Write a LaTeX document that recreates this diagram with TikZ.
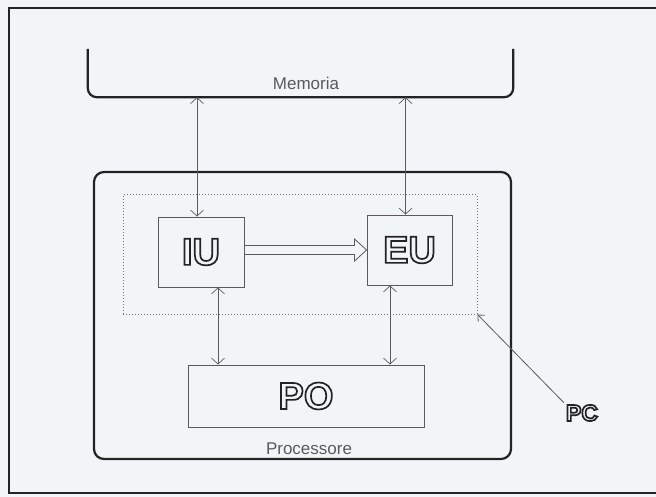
\documentclass[tikz,border=0pt]{standalone}
\usepackage{fontspec}
\setmainfont{Liberation Sans}
\usetikzlibrary{arrows.meta,calc}

\definecolor{paper}{RGB}{242,245,247}
\definecolor{ink}{RGB}{35,35,35}
\definecolor{pencil}{RGB}{90,90,90}

% outlined letters (stroke only)
\newcommand{\hollow}[1]{\special{pdf:literal direct 1 Tr 1.7 w}#1\special{pdf:literal direct 0 Tr}}

\tikzset{
  unitbox/.style={draw=pencil,line width=0.9pt,inner sep=0pt},
  bigbox/.style={draw=ink,line width=2.2pt,rounded corners=10pt,inner sep=0pt},
  link/.style={draw=pencil,line width=0.7pt,{Straight Barb[length=6pt,width=13pt]}-{Straight Barb[length=6pt,width=13pt]}},
  lbl/.style={text=pencil,font=\fontsize{17}{20}\selectfont},
  big/.style={text=ink,font=\fontsize{38}{40}\selectfont\bfseries}
}

\begin{document}
\begin{tikzpicture}[x=1pt,y=-1pt]
\useasboundingbox[fill=paper] (0,0) rectangle (656,497);

% page frame
\draw[ink,line width=1.3pt] (658,8) -- (9,8) -- (9,493) -- (658,493);

% memory
\node[minimum width=425pt,minimum height=48pt,inner sep=0pt] (mem) at (300.5,73) {};
\draw[ink,line width=2.2pt,rounded corners=9pt] (mem.north west) -- (mem.south west) -- (mem.south east) -- (mem.north east);
\node[lbl] (memlabel) at (306,83) {Memoria};

% processor
\node[bigbox,minimum width=417pt,minimum height=287pt] (proc) at (302.5,315.5) {};
\node[lbl] (proclabel) at (309,449) {Processore};

% control unit area
\node[draw=pencil!85,dotted,line width=1pt,minimum width=354pt,minimum height=119pt,inner sep=0pt] (cu) at (300,254.5) {};

\node[unitbox,minimum width=86pt,minimum height=70pt,big] (iu) at (201,252) {\hollow{IU}};
\node[unitbox,minimum width=85pt,minimum height=70pt,big] (eu) at (409.5,250) {\hollow{EU}};
\node[unitbox,minimum width=236pt,minimum height=62pt,big] (po) at (306,396) {\hollow{PO}};

% IU -> EU
\draw[pencil,line width=0.8pt,line join=miter]
  ($(iu.east |- eu.west)+(0,4.5)$) -- ($(eu.west)+(-12,4.5)$) -- ($(eu.west)+(-12,11)$)
  -- (eu.west) -- ($(eu.west)+(-12,-11)$) -- ($(eu.west)+(-12,-4.5)$)
  -- ($(iu.east |- eu.west)+(0,-4.5)$) -- cycle;

% buses
\coordinate (ma) at ([xshift=-4pt]iu.north);
\coordinate (mb) at ([xshift=-4pt]eu.north);
\coordinate (pa) at ([xshift=17pt]iu.south);
\coordinate (pb) at ([xshift=-19.5pt]eu.south);
\draw[link] (ma |- mem.south) -- (ma);
\draw[link] (mb |- mem.south) -- (mb);
\draw[link] (pa) -- (pa |- po.north);
\draw[link] (pb) -- (pb |- po.north);

% program counter
\node[text=ink,font=\fontsize{23}{25}\selectfont\bfseries,inner sep=2pt] (pc) at (582,413) {\hollow{PC}};
\draw[pencil,line width=0.8pt,-{Straight Barb[length=5pt,width=9pt]}] (pc.north west) -- (cu.south east);
\end{tikzpicture}
\end{document}
